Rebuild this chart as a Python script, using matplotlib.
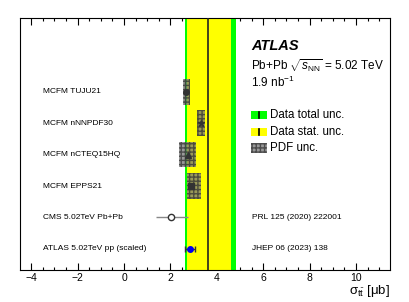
import matplotlib
matplotlib.use("Agg")
import matplotlib.pyplot as plt
from matplotlib.patches import Rectangle
from matplotlib.ticker import MultipleLocator

plt.rcParams['font.family'] = ['Liberation Sans', 'DejaVu Sans']
plt.rcParams['mathtext.fontset'] = 'custom'
plt.rcParams['mathtext.rm'] = 'Liberation Sans'
plt.rcParams['mathtext.it'] = 'Liberation Sans:italic'
plt.rcParams['mathtext.bf'] = 'Liberation Sans:bold'

# ATLAS Pb+Pb measurement (ub)
data_central = 3.6
data_total = (2.61, 4.84)
data_stat = (2.70, 4.61)

# MCFM predictions with nuclear PDFs
theory_labels = ["MCFM TUJU21", "MCFM nNNPDF30", "MCFM nCTEQ15HQ", "MCFM EPPS21"]
theory_rows = [5, 4, 3, 2]
theory_central = [2.68, 3.32, 2.74, 2.89]
theory_low = [2.55, 3.15, 2.39, 2.71]
theory_high = [2.84, 3.51, 3.09, 3.31]
theory_markers = ["o", "*", "^", "s"]

# other measurements
meas_labels = ["CMS 5.02TeV Pb+Pb", "ATLAS 5.02TeV pp (scaled)"]
meas_refs = ["PRL 125 (2020) 222001", "JHEP 06 (2023) 138"]
meas_rows = [1, 0]
meas_central = [2.04, 2.85]
meas_low = [1.39, 2.63]
meas_high = [2.75, 3.07]


def main():
    fig = plt.figure(figsize=(4.09, 3.02), dpi=100)
    ax = fig.add_axes([0.049, 0.106, 0.905, 0.834])
    ax.set_xlim(-4.48, 11.47)
    ax.set_ylim(-0.67, 7.34)

    # data bands
    ax.axvspan(data_total[0], data_total[1], color='#00ff00', lw=0, zorder=1)
    ax.axvspan(data_stat[0], data_stat[1], color='#ffff00', lw=0, zorder=2)
    ax.axvline(data_central, color='#222222', lw=1.2, zorder=3)

    # theory boxes
    half = 0.41
    for lab, y, c, lo, hi, m in zip(theory_labels, theory_rows, theory_central,
                                    theory_low, theory_high, theory_markers):
        ax.add_patch(Rectangle((lo, y - half), hi - lo, 2 * half,
                               facecolor='#777777', alpha=0.75, hatch='++++',
                               edgecolor='#333333', lw=0, zorder=4))
        ax.plot(c, y, marker=m, color='#333333', ms=4 if m != "*" else 5,
                zorder=5)
        ax.text(-3.49, y, lab, fontsize=6, va='center', ha='left')

    # measurements
    ax.errorbar(meas_central[0], meas_rows[0],
                xerr=[[meas_central[0] - meas_low[0]], [meas_high[0] - meas_central[0]]],
                fmt='o', mfc='white', mec='#333333', color='#888888', ms=4.5,
                elinewidth=1, capsize=0, zorder=5)
    ax.errorbar(meas_central[1], meas_rows[1],
                xerr=[[meas_central[1] - meas_low[1]], [meas_high[1] - meas_central[1]]],
                fmt='o', mfc='#0000ee', mec='#0000ee', color='#333333', ms=4,
                elinewidth=1, capsize=2, capthick=1, zorder=5)
    for lab, ref, y in zip(meas_labels, meas_refs, meas_rows):
        ax.text(-3.49, y, lab, fontsize=6, va='center', ha='left')
        ax.text(5.5, y, ref, fontsize=6, va='center', ha='left')

    # header
    ax.text(0.624, 0.873, "ATLAS", transform=ax.transAxes, fontsize=10.5,
            fontweight='bold', fontstyle='italic')
    ax.text(0.624, 0.794, r"Pb+Pb $\sqrt{s_{\mathrm{NN}}}$ = 5.02 TeV",
            transform=ax.transAxes, fontsize=8.5)
    ax.text(0.624, 0.726, r"1.9 nb$^{-1}$", transform=ax.transAxes, fontsize=8.5)

    # legend
    lx, lw = 0.6235, 0.043
    ax.add_patch(Rectangle((lx, 0.599), lw, 0.032, transform=ax.transAxes,
                           facecolor='#00ff00', lw=0, zorder=6))
    ax.add_patch(Rectangle((lx, 0.532), lw, 0.033, transform=ax.transAxes,
                           facecolor='#ffff00', lw=0, zorder=6))
    ax.add_patch(Rectangle((lx, 0.465), lw, 0.040, transform=ax.transAxes,
                           facecolor='#777777', alpha=0.75, hatch='++++',
                           edgecolor='#333333', lw=0, zorder=6))
    for yb, yt in [(0.599, 0.631), (0.532, 0.565)]:
        ax.plot([lx + lw / 2, lx + lw / 2], [yb + 0.004, yt - 0.004],
                transform=ax.transAxes, color='black', lw=1.2, zorder=7)
    ax.text(0.676, 0.615, "Data total unc.", transform=ax.transAxes,
            fontsize=8.3, va='center')
    ax.text(0.676, 0.548, "Data stat. unc.", transform=ax.transAxes,
            fontsize=8.3, va='center')
    ax.text(0.676, 0.485, "PDF unc.", transform=ax.transAxes,
            fontsize=8.3, va='center')

    # axes styling
    ax.set_yticks([])
    ax.xaxis.set_major_locator(MultipleLocator(2))
    ax.xaxis.set_minor_locator(MultipleLocator(0.5))
    ax.tick_params(axis='x', which='both', direction='in', top=True,
                   labelsize=7.5, width=0.8, pad=2)
    ax.tick_params(axis='x', which='major', length=5)
    ax.tick_params(axis='x', which='minor', length=2.5)
    for s in ax.spines.values():
        s.set_linewidth(0.8)
    ax.set_xlabel(r"σ$_{\mathrm{t\bar{t}}}$ [μb]", fontsize=9.5, loc='right',
                  labelpad=0)

    fig.savefig("out.png", dpi=100)


if __name__ == "__main__":
    main()
